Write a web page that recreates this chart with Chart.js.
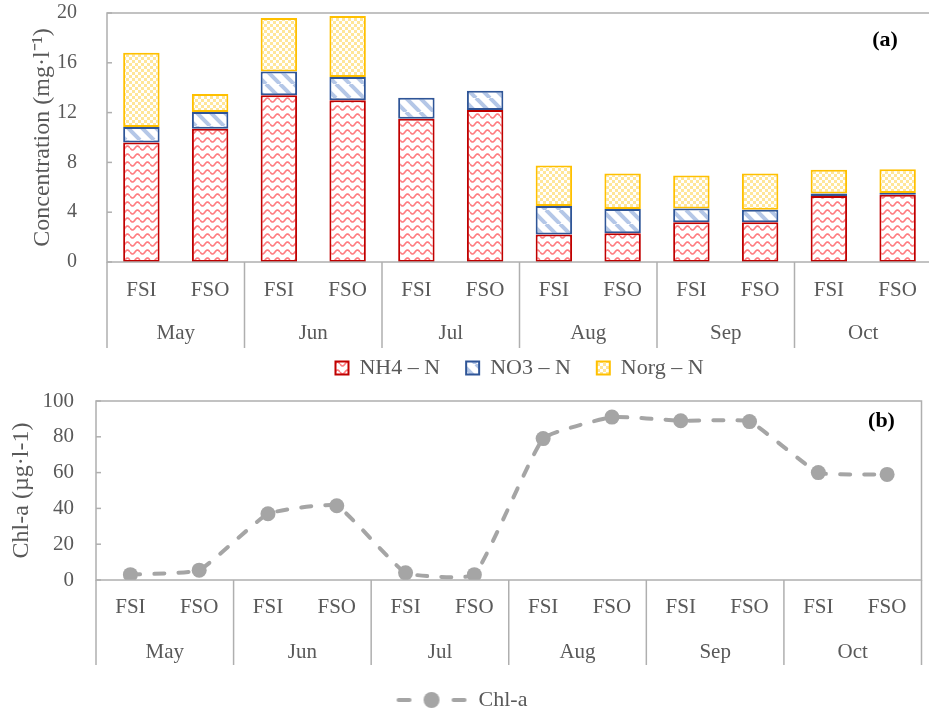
<!DOCTYPE html>
<html>
<head>
<meta charset="utf-8">
<script src="https://cdn.jsdelivr.net/npm/chart.js@4.4.1/dist/chart.umd.min.js"></script>
<style>
  html, body { margin: 0; padding: 0; background: #fff; width: 929px; height: 716px; overflow: hidden; position: relative; }
  #chartA { position: absolute; left: 0; top: 0; }
  #chartB { position: absolute; left: 0; top: 385px; }
</style>
</head>
<body>
<canvas id="chartA" width="932" height="390"></canvas>
<canvas id="chartB" width="929" height="340"></canvas>
<script>
// data
const months = ['May', 'Jun', 'Jul', 'Aug', 'Sep', 'Oct'];
const sites = ['FSI', 'FSO'];
const nh4 = [9.6, 10.7, 13.4, 13.0, 11.5, 12.2, 2.2, 2.3, 3.2, 3.2, 5.3, 5.4];
const no3 = [1.25, 1.35, 1.9, 1.85, 1.7, 1.55, 2.3, 1.95, 1.1, 1.0, 0.2, 0.15];
const norg = [5.95, 1.45, 4.3, 4.9, null, null, 3.25, 2.85, 2.65, 2.9, 1.9, 1.9];
const chla = [3, 5.5, 37, 41.5, 4, 3, 79, 91, 89, 88.5, 60, 59];
const concTicks = [0, 4, 8, 12, 16, 20];
const chlTicks = [0, 20, 40, 60, 80, 100];

const labels = months.flatMap(m => sites.map(s => m + ' ' + s));

const serif = '"Liberation Serif", "Times New Roman", serif';
const grey = '#595959';
const axisGrey = '#AFAFAF';

// fill patterns like the Excel ones
function makePattern(w, h, draw) {
    const c = document.createElement('canvas');
    c.width = w; c.height = h;
    const g = c.getContext('2d');
    g.fillStyle = '#fff';
    g.fillRect(0, 0, w, h);
    draw(g, w, h);
    return g.createPattern(c, 'repeat');
}
const wavePat = makePattern(10, 8, (g, w) => {
    g.strokeStyle = '#FF7C80';
    g.lineWidth = 1.6;
    g.beginPath();
    for (let x = 0; x <= w; x += 0.5) {
        const y = 4 + 2 * Math.sin(2 * Math.PI * x / w);
        if (x === 0) g.moveTo(x, y); else g.lineTo(x, y);
    }
    g.stroke();
});
const stripePat = makePattern(14, 14, (g, w, h) => {
    g.strokeStyle = '#B4C7E7';
    g.lineWidth = 4;
    for (const o of [-w, 0, w]) {
        g.beginPath(); g.moveTo(o, 0); g.lineTo(o + w, h); g.stroke();
    }
});
const checkPat = makePattern(6, 6, (g) => {
    g.fillStyle = '#FFE699';
    g.fillRect(0, 0, 3, 3);
    g.fillRect(3, 3, 3, 3);
});

// two-level category axis, frame, inner ticks and panel tag
const multiAxis = {
    id: 'multiAxis',
    afterDraw(chart, args, o) {
        const { ctx, chartArea: a, scales: { x, y } } = chart;
        ctx.save();
        ctx.strokeStyle = axisGrey;
        ctx.lineWidth = 1.5;
        ctx.strokeRect(a.left, a.top, a.right - a.left, a.bottom - a.top);
        y.ticks.forEach(t => {
            const py = y.getPixelForValue(t.value);
            ctx.beginPath(); ctx.moveTo(a.left, py); ctx.lineTo(a.left + 5, py); ctx.stroke();
        });
        for (let j = 0; j <= months.length; j++) {
            const px = x.getPixelForDecimal(j / months.length);
            ctx.beginPath(); ctx.moveTo(px, a.bottom); ctx.lineTo(px, a.bottom + o.sepLen); ctx.stroke();
        }
        ctx.fillStyle = grey;
        ctx.font = o.size + 'px ' + serif;
        ctx.textAlign = 'center';
        ctx.textBaseline = 'middle';
        labels.forEach((l, i) => ctx.fillText(sites[i % sites.length], x.getPixelForValue(i), a.bottom + o.row1));
        months.forEach((m, j) => ctx.fillText(m, x.getPixelForDecimal((j + 0.5) / months.length), a.bottom + o.row2));
        ctx.fillStyle = '#000';
        ctx.font = 'bold ' + (o.size + 1) + 'px ' + serif;
        ctx.fillText(o.tag, a.right - o.tagDx, a.top + o.tagDy);
        ctx.restore();
    }
};

function fixY(width) {
    return s => { s.width = width; s.paddingTop = 0; s.paddingBottom = 0; };
}

Chart.defaults.font.family = serif;
Chart.defaults.color = grey;

new Chart(document.getElementById('chartA'), {
    type: 'bar',
    data: {
        labels,
        datasets: [
            { label: 'NH4 – N', data: nh4, backgroundColor: wavePat, borderColor: '#C00000', borderWidth: 2, borderSkipped: false },
            { label: 'NO3 – N', data: no3, backgroundColor: stripePat, borderColor: '#2F5597', borderWidth: 2, borderSkipped: false },
            { label: 'Norg – N', data: norg, backgroundColor: checkPat, borderColor: '#FFC000', borderWidth: 2, borderSkipped: false }
        ]
    },
    options: {
        responsive: false,
        animation: false,
        layout: { padding: { top: 13, right: 0, bottom: 1, left: 0 } },
        barPercentage: 0.53,
        categoryPercentage: 1,
        plugins: {
            tooltip: { enabled: false },
            legend: {
                position: 'bottom',
                fullSize: false,
                labels: { boxWidth: 13, boxHeight: 13, font: { size: 22 }, color: grey, padding: 26 }
            },
            multiAxis: { size: 21, row1: 28, row2: 71, sepLen: 86, tag: '(a)', tagDx: 47, tagDy: 27 }
        },
        scales: {
            x: {
                stacked: true,
                grid: { display: false },
                border: { display: false },
                ticks: { display: false },
                afterFit: s => { s.height = 69; }
            },
            y: {
                stacked: true,
                min: concTicks[0],
                max: concTicks[concTicks.length - 1],
                grid: { display: false, drawTicks: false },
                border: { display: false },
                ticks: { stepSize: concTicks[1] - concTicks[0], padding: 30, font: { size: 20 }, color: grey },
                title: { display: true, text: 'Concentration (mg·l⁻¹)', font: { size: 24 }, color: grey, padding: { top: 28, bottom: 0 } },
                afterFit: fixY(107)
            }
        }
    },
    plugins: [multiAxis]
});

// legend icon: dashed line with marker
const chlIcon = document.createElement('canvas');
chlIcon.width = 72; chlIcon.height = 18;
(function () {
    const g = chlIcon.getContext('2d');
    g.strokeStyle = '#A5A5A5';
    g.lineWidth = 4;
    g.lineCap = 'round';
    g.beginPath();
    g.moveTo(3, 9); g.lineTo(14, 9);
    g.moveTo(58, 9); g.lineTo(69, 9);
    g.stroke();
    g.fillStyle = '#A5A5A5';
    g.beginPath(); g.arc(36, 9, 8, 0, Math.PI * 2); g.fill();
})();

new Chart(document.getElementById('chartB'), {
    type: 'line',
    data: {
        labels,
        datasets: [{
            label: 'Chl-a',
            data: chla,
            borderColor: '#A5A5A5',
            backgroundColor: '#A5A5A5',
            borderWidth: 4,
            borderDash: [10, 14],
            borderCapStyle: 'round',
            tension: 0.12,
            pointRadius: 7.5,
            pointBorderWidth: 0,
            pointBackgroundColor: '#A5A5A5'
        }]
    },
    options: {
        responsive: false,
        animation: false,
        layout: { padding: { top: 16, right: 6, bottom: 4, left: 0 } },
        plugins: {
            tooltip: { enabled: false },
            legend: {
                position: 'bottom',
                labels: {
                    usePointStyle: true,
                    pointStyleWidth: 72,
                    font: { size: 22 },
                    color: grey,
                    padding: 10,
                    generateLabels: chart => [{
                        text: chart.data.datasets[0].label,
                        pointStyle: chlIcon,
                        fillStyle: '#A5A5A5',
                        strokeStyle: '#A5A5A5',
                        lineWidth: 0,
                        fontColor: grey,
                        hidden: false,
                        datasetIndex: 0
                    }]
                }
            },
            multiAxis: { size: 21, row1: 27, row2: 72, sepLen: 85, tag: '(b)', tagDx: 40, tagDy: 20 }
        },
        scales: {
            x: {
                offset: true,
                grid: { display: false },
                border: { display: false },
                ticks: { display: false },
                afterFit: s => { s.height = 99; }
            },
            y: {
                min: chlTicks[0],
                max: chlTicks[chlTicks.length - 1],
                grid: { display: false, drawTicks: false },
                border: { display: false },
                ticks: { stepSize: chlTicks[1] - chlTicks[0], padding: 22, font: { size: 21 }, color: grey },
                title: { display: true, text: 'Chl-a (µg·l-1)', font: { size: 24 }, color: grey, padding: { top: 7, bottom: 0 } },
                afterFit: fixY(96)
            }
        }
    },
    plugins: [multiAxis]
});
</script>
</body>
</html>
